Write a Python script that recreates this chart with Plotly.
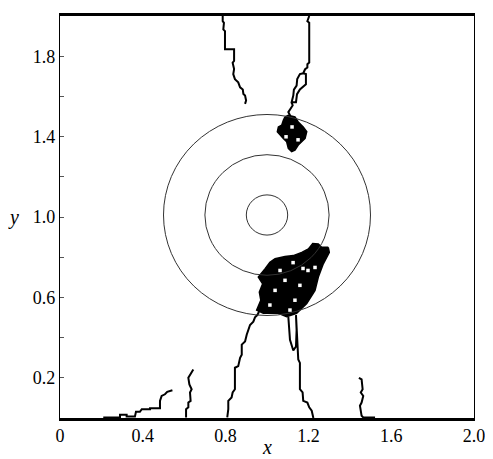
import plotly.graph_objects as go

# circles (centre and radii, data units)
circle_cx = 1.0
circle_cy = 1.01
circle_r = [0.1, 0.3, 0.5]

# random-walk trajectories
walk_a_x = [0.786, 0.786, 0.792, 0.789, 0.797, 0.797, 0.841, 0.841, 0.834, 0.841, 0.837, 0.845, 0.861, 0.870, 0.883, 0.886, 0.894, 0.899, 0.894]
walk_a_y = [2.0, 1.974, 1.966, 1.933, 1.925, 1.834, 1.834, 1.777, 1.768, 1.736, 1.711, 1.686, 1.670, 1.645, 1.634, 1.612, 1.604, 1.580, 1.563]

walk_b_x = [1.204, 1.200, 1.195, 1.204, 1.204, 1.195, 1.195, 1.184, 1.175, 1.159, 1.146, 1.143, 1.130, 1.127, 1.119,
            1.140, 1.145, 1.159, 1.188, 1.188, 1.175, 1.159, 1.146, 1.143, 1.130, 1.127, 1.119, 1.124, 1.114, 1.103, 1.111, 1.103]
walk_b_y = [2.0, 1.985, 1.974, 1.966, 1.768, 1.760, 1.744, 1.735, 1.715, 1.711, 1.686, 1.654, 1.634, 1.604, 1.571,
            1.571, 1.611, 1.635, 1.660, 1.711, 1.715, 1.711, 1.686, 1.654, 1.634, 1.604, 1.571, 1.555, 1.538, 1.522, 1.506, 1.489]

blob_up_x = [1.087, 1.103, 1.135, 1.151, 1.175, 1.192, 1.184, 1.168, 1.151, 1.135, 1.119, 1.103, 1.095, 1.079, 1.063, 1.050, 1.055, 1.071, 1.079, 1.087]
blob_up_y = [1.498, 1.506, 1.498, 1.473, 1.448, 1.424, 1.391, 1.374, 1.358, 1.333, 1.325, 1.341, 1.374, 1.391, 1.407, 1.424, 1.448, 1.457, 1.481, 1.498]

blob_low_x = [1.296, 1.264, 1.248, 1.221, 1.200, 1.168, 1.127, 1.087, 1.039, 1.014, 0.990, 0.958, 0.979, 0.963, 0.970, 0.950, 0.982, 1.055, 1.095, 1.143, 1.192, 1.232, 1.248, 1.272, 1.301, 1.296]
blob_low_y = [0.849, 0.849, 0.866, 0.868, 0.841, 0.824, 0.808, 0.803, 0.792, 0.775, 0.742, 0.701, 0.668, 0.627, 0.586, 0.537, 0.521, 0.521, 0.504, 0.521, 0.570, 0.635, 0.701, 0.767, 0.824, 0.849]

# unvisited gaps inside the dense clusters
hole_x = [1.126, 1.174, 1.232, 1.159, 1.087, 1.039, 1.135, 1.198, 1.063, 1.111, 1.014, 1.121, 1.092, 1.150]
hole_y = [0.773, 0.744, 0.749, 0.660, 0.685, 0.635, 0.586, 0.734, 0.734, 0.537, 0.562, 1.448, 1.399, 1.384]

walk_c_x = [0.808, 0.813, 0.813, 0.829, 0.834, 0.845, 0.845, 0.861, 0.870, 0.878, 0.878, 0.894, 0.902, 0.910, 0.918, 0.934, 0.942, 0.953, 0.958, 0.966]
walk_c_y = [0.003, 0.044, 0.085, 0.102, 0.127, 0.143, 0.250, 0.258, 0.299, 0.315, 0.365, 0.381, 0.414, 0.438, 0.463, 0.479, 0.501, 0.512, 0.521, 0.545]

walk_d_x = [1.103, 1.111, 1.127, 1.140, 1.143, 1.140, 1.143, 1.146, 1.151, 1.159, 1.159, 1.172, 1.175, 1.195, 1.204, 1.216, 1.224, 1.224]
walk_d_y = [0.504, 0.389, 0.336, 0.356, 0.438, 0.512, 0.438, 0.389, 0.291, 0.274, 0.143, 0.127, 0.085, 0.077, 0.053, 0.036, 0.011, 0.0]

walk_e_x = [0.209, 0.290, 0.290, 0.322, 0.322, 0.362, 0.367, 0.386, 0.395, 0.435, 0.435, 0.483, 0.483, 0.491, 0.507, 0.518, 0.543]
walk_e_y = [0.003, 0.003, 0.016, 0.016, 0.008, 0.008, 0.031, 0.031, 0.044, 0.044, 0.048, 0.048, 0.085, 0.110, 0.118, 0.130, 0.138]

walk_f_x = [0.609, 0.609, 0.620, 0.620, 0.631, 0.628, 0.636, 0.625, 0.620, 0.631, 0.644]
walk_f_y = [0.003, 0.044, 0.053, 0.077, 0.085, 0.127, 0.143, 0.167, 0.200, 0.217, 0.241]

walk_g_x = [1.444, 1.457, 1.462, 1.453, 1.465, 1.457, 1.449, 1.457, 1.465, 1.522]
walk_g_y = [0.200, 0.192, 0.143, 0.127, 0.110, 0.077, 0.061, 0.011, 0.003, 0.003]

x_tick_vals = [0, 0.4, 0.8, 1.2, 1.6, 2.0]
x_tick_text = ["0", "0.4", "0.8", "1.2", "1.6", "2.0"]
y_tick_vals = [0.2, 0.4, 0.6, 0.8, 1.0, 1.2, 1.4, 1.6, 1.8]
y_tick_text = ["0.2", "", "0.6", "", "1.0", "", "1.4", "", "1.8"]

FONT = "Liberation Serif, Times New Roman, serif"

fig = go.Figure()

walks = [(walk_a_x, walk_a_y), (walk_b_x, walk_b_y), (walk_c_x, walk_c_y), (walk_d_x, walk_d_y),
         (walk_e_x, walk_e_y), (walk_f_x, walk_f_y), (walk_g_x, walk_g_y)]
for wx, wy in walks:
    fig.add_trace(go.Scatter(x=wx, y=wy, mode="lines", line=dict(color="black", width=2),
                             showlegend=False, hoverinfo="skip"))

for bx, by in [(blob_up_x, blob_up_y), (blob_low_x, blob_low_y)]:
    fig.add_trace(go.Scatter(x=bx, y=by, mode="lines", fill="toself", fillcolor="black",
                             line=dict(color="black", width=1.5), showlegend=False, hoverinfo="skip"))

fig.add_trace(go.Scatter(x=hole_x, y=hole_y, mode="markers",
                         marker=dict(symbol="square", size=3.5, color="white", line=dict(width=0)),
                         showlegend=False, hoverinfo="skip"))

for r in circle_r:
    fig.add_shape(type="circle", xref="x", yref="y",
                  x0=circle_cx - r, x1=circle_cx + r, y0=circle_cy - r, y1=circle_cy + r,
                  line=dict(color="#333333", width=1))

fig.update_xaxes(range=[0, 2], tickvals=x_tick_vals, ticktext=x_tick_text,
                 showgrid=False, zeroline=False, showline=True, linecolor="black",
                 linewidth=2.5, mirror=True, ticks="", tickfont=dict(family=FONT, size=18, color="black"))
fig.update_yaxes(range=[0, 2], tickvals=y_tick_vals, ticktext=y_tick_text,
                 showgrid=False, zeroline=False, showline=True, linecolor="black",
                 linewidth=1.3, mirror=True, ticks="inside", ticklen=4, tickwidth=1, tickcolor="#555",
                 tickfont=dict(family=FONT, size=18, color="black"))

fig.add_annotation(text="<i>x</i>", xref="paper", yref="paper", x=0.5, y=-0.04,
                   showarrow=False, font=dict(family=FONT, size=20, color="black"), yanchor="top")
fig.add_annotation(text="<i>y</i>", xref="paper", yref="y", x=-0.13, y=1.0,
                   showarrow=False, font=dict(family=FONT, size=20, color="black"))

fig.update_layout(width=485, height=451, margin=dict(l=52, r=19, t=5, b=41),
                  plot_bgcolor="white", paper_bgcolor="white")

fig.write_html("out.html")
